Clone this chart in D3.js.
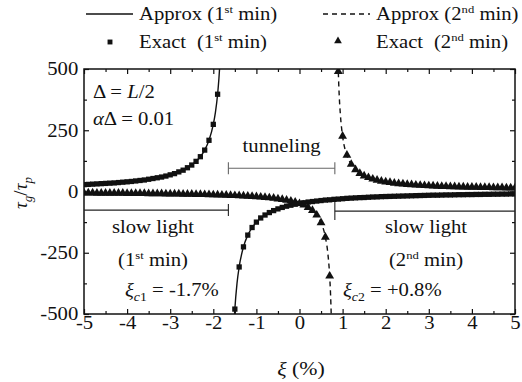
<!DOCTYPE html>
<html>
<head>
<meta charset="utf-8">
<script src="https://cdn.jsdelivr.net/npm/d3@7/dist/d3.min.js"></script>
<style>
  body { margin: 0; background: #fff; }
  svg text { font-family: 'Liberation Serif', 'Times New Roman', Times, 'DejaVu Serif', serif; fill: #111; }
</style>
</head>
<body>
<div id="chart"></div>
<script>
// ---- data ----
// exact, 1st minimum (squares)
var exact1LeftX = [-5.0,-4.9,-4.8,-4.7,-4.6,-4.5,-4.4,-4.3,-4.2,-4.1,-4.0,-3.9,-3.8,-3.7,-3.6,-3.5,-3.4,-3.3,-3.2,-3.1,-3.0,-2.9,-2.8,-2.7,-2.6,-2.5,-2.4,-2.3,-2.2,-2.1,-2.0,-1.9];
var exact1LeftY = [28,29,30,31,32,33,34,35,36.5,38,39.5,41,43,45,47,50,53,56,59,63,68,73,80,87,97,108,123,142,169,209,274,397];
var exact1RightX = [-1.5,-1.4,-1.3,-1.2,-1.1,-1.0,-0.9,-0.8,-0.7,-0.6,-0.5,-0.4,-0.3,-0.2,-0.1,0.0,0.1,0.2,0.3,0.4,0.5,0.6,0.7,0.8,0.9,1.0,1.1,1.2,1.3,1.4,1.5,1.6,1.7,1.8,1.9,2.0,2.1,2.2,2.3,2.4,2.5,2.6,2.7,2.8,2.9,3.0,3.1,3.2,3.3,3.4,3.5,3.6,3.7,3.8,3.9,4.0,4.1,4.2,4.3,4.4,4.5,4.6,4.7,4.8,4.9,5.0];
var exact1RightY = [-480,-308,-226,-178,-147,-125,-108,-96,-86,-78,-71,-65,-60,-56,-52,-49,-46,-43,-41,-39,-37,-35,-34,-32,-31,-29.5,-28,-27,-26,-25,-24.5,-23.5,-22.5,-22,-21,-20.5,-20,-19.5,-19,-18.5,-18,-17.5,-17,-16.5,-16,-15.5,-15,-15,-14.5,-14,-14,-13.5,-13,-13,-12.5,-12.5,-12,-12,-11.5,-11.5,-11,-11,-10.5,-10.5,-10,-10];

// exact, 2nd minimum (triangles)
var exact2LeftX = [-5.0,-4.9,-4.8,-4.7,-4.6,-4.5,-4.4,-4.3,-4.2,-4.1,-4.0,-3.9,-3.8,-3.7,-3.6,-3.5,-3.4,-3.3,-3.2,-3.1,-3.0,-2.9,-2.8,-2.7,-2.6,-2.5,-2.4,-2.3,-2.2,-2.1,-2.0,-1.9,-1.8,-1.7,-1.6,-1.5,-1.4,-1.3,-1.2,-1.1,-1.0,-0.9,-0.8,-0.7,-0.6,-0.5,-0.4,-0.3,-0.2,-0.1,0.0,0.1,0.2,0.3,0.4,0.5,0.6,0.7];
var exact2LeftY = [-6,-6,-6,-6.5,-6.5,-6.5,-7,-7,-7,-7,-7.5,-7.5,-8,-8,-8,-8.5,-8.5,-9,-9,-9.5,-9.5,-10,-10,-10.5,-11,-11,-11.5,-12,-12.5,-13,-13.5,-14,-14.5,-15,-16,-16.5,-17,-18,-19,-20,-21,-22.5,-24,-25.5,-27.5,-30,-32,-35,-39,-43,-49,-55,-65,-77,-96,-127,-186,-345];
var exact2RightX = [0.9,1.0,1.1,1.2,1.3,1.4,1.5,1.6,1.7,1.8,1.9,2.0,2.1,2.2,2.3,2.4,2.5,2.6,2.7,2.8,2.9,3.0,3.1,3.2,3.3,3.4,3.5,3.6,3.7,3.8,3.9,4.0,4.1,4.2,4.3,4.4,4.5,4.6,4.7,4.8,4.9,5.0];
var exact2RightY = [490,226,148,111,89,74,64,57,51,46,42,39,37,34,32,31,29,28,26.5,25.5,24.5,23.5,22.5,22,21,20.5,20,19.5,19,18.5,18,17.5,17.5,17,16.5,16.5,16,15.5,15.5,15,15,14.5];

// approximation curves
var approx1LeftX = [-5,-4.5,-4,-3.5,-3,-2.75,-2.5,-2.3,-2.2,-2.1,-2.0,-1.95,-1.9,-1.87,-1.85];
var approx1LeftY = [28,33,39.5,50,68,83,108,142,169,209,274,324,397,460,514];
var approx1RightX = [-1.52,-1.5,-1.45,-1.4,-1.3,-1.2,-1.1,-1.0,-0.8,-0.6,-0.4,-0.2,0,0.5,1,1.5,2,3,4,5];
var approx1RightY = [-541,-480,-375,-308,-226,-178,-147,-125,-96,-78,-65,-56,-49,-37,-29.5,-24.5,-20.5,-15.5,-12.5,-10];
var approx2LeftX = [-5,-4,-3,-2,-1.5,-1,-0.5,0,0.2,0.4,0.5,0.6,0.65,0.7,0.72,0.74];
var approx2LeftY = [-6,-7.4,-9.6,-13.4,-16.5,-21.3,-29.8,-48.6,-64.6,-96,-127,-186,-241,-345,-417,-525];
var approx2RightX = [0.89,0.9,0.92,0.95,1.0,1.1,1.2,1.3,1.5,1.75,2,2.5,3,4,5];
var approx2RightY = [560,493,398,310,226,148,111,89,64,48,39,29,23.5,17.5,14.5];

// axis ticks
var xTicks = [-5,-4,-3,-2,-1,0,1,2,3,4,5];
var xMinor = [-4.5,-3.5,-2.5,-1.5,-0.5,0.5,1.5,2.5,3.5,4.5];
var yTicks = [-500,-250,0,250,500];
var yMinor = [-375,-125,125,375];

// regions (pole positions in %, bracket heights in tau units)
var xiC1 = -1.65, xiC2 = 0.82;
var tunnelY = 95, slowLeftY = -76, slowRightY = -80;

// ---- drawing ----
var W = 522, H = 382;
var SX = 1.15;   // the source figure is a bit stretched horizontally
var FS = 18;
var SERIF = "'Liberation Serif', 'Times New Roman', Times, 'DejaVu Serif', serif";

var svg = d3.select('#chart').append('svg')
  .attr('width', W).attr('height', H)
  .attr('font-family', SERIF);

var x = d3.scaleLinear().domain([-5, 5]).range([84, 515]);
var y = d3.scaleLinear().domain([-500, 500]).range([314, 69]);

function zip(xs, ys) {
  return xs.map(function(d, i) { return { x: d, y: ys[i] }; });
}

function label(g, px, py, anchor, size) {
  return g.append('text')
    .attr('transform', 'translate(' + px + ',' + py + ') scale(' + SX + ',1)')
    .attr('text-anchor', anchor || 'start')
    .attr('font-family', SERIF)
    .attr('font-size', size || FS);
}

function sup(t, s) {
  t.append('tspan').attr('font-size', 11).attr('dy', -7).text(s);
}

svg.append('defs').append('clipPath').attr('id', 'plotclip')
  .append('rect')
  .attr('x', x(-5)).attr('y', y(500))
  .attr('width', x(5) - x(-5)).attr('height', y(-500) - y(500));

// axes: ticks pointing inward on all four sides
function tickStyle(g) {
  g.attr('font-family', SERIF);
  g.select('.domain').remove();
  g.selectAll('.tick line').attr('stroke', '#111').attr('stroke-width', 1.2);
}
function tickText(g) {
  g.selectAll('text').attr('font-size', FS).attr('fill', '#111')
    .attr('font-family', SERIF)
    .attr('transform', 'scale(' + SX + ',1)');
}
function noLabel() { return ''; }

svg.append('g').attr('transform', 'translate(0,' + y(-500) + ')')
  .call(d3.axisBottom(x).tickValues(xTicks).tickSize(-5).tickPadding(2)
    .tickFormat(function(d) { return String(d); }))
  .call(tickStyle).call(tickText);
svg.append('g').attr('transform', 'translate(0,' + y(-500) + ')')
  .call(d3.axisBottom(x).tickValues(xMinor).tickSize(-3).tickFormat(noLabel))
  .call(tickStyle);
svg.append('g').attr('transform', 'translate(0,' + y(500) + ')')
  .call(d3.axisTop(x).tickValues(xTicks).tickSize(-5).tickFormat(noLabel))
  .call(tickStyle);
svg.append('g').attr('transform', 'translate(0,' + y(500) + ')')
  .call(d3.axisTop(x).tickValues(xMinor).tickSize(-3).tickFormat(noLabel))
  .call(tickStyle);

svg.append('g').attr('transform', 'translate(' + x(-5) + ',0)')
  .call(d3.axisLeft(y).tickValues(yTicks).tickSize(-5).tickPadding(5)
    .tickFormat(function(d) { return String(d); }))
  .call(tickStyle).call(tickText);
svg.append('g').attr('transform', 'translate(' + x(-5) + ',0)')
  .call(d3.axisLeft(y).tickValues(yMinor).tickSize(-3).tickFormat(noLabel))
  .call(tickStyle);
svg.append('g').attr('transform', 'translate(' + x(5) + ',0)')
  .call(d3.axisRight(y).tickValues(yTicks).tickSize(-5).tickFormat(noLabel))
  .call(tickStyle);
svg.append('g').attr('transform', 'translate(' + x(5) + ',0)')
  .call(d3.axisRight(y).tickValues(yMinor).tickSize(-3).tickFormat(noLabel))
  .call(tickStyle);

// frame
svg.append('rect')
  .attr('x', x(-5)).attr('y', y(500))
  .attr('width', x(5) - x(-5)).attr('height', y(-500) - y(500))
  .attr('fill', 'none').attr('stroke', '#111').attr('stroke-width', 1.5);

// region brackets
function bracket(x0, x1, yv, capAt, capLo, capHi, color) {
  var g = svg.append('g').attr('stroke', color).attr('stroke-width', 1.1);
  g.append('line').attr('x1', x(x0)).attr('x2', x(x1)).attr('y1', y(yv)).attr('y2', y(yv));
  capAt.forEach(function(c) {
    g.append('line').attr('x1', x(c)).attr('x2', x(c))
      .attr('y1', y(yv) - capLo).attr('y2', y(yv) + capHi);
  });
}
bracket(xiC1, xiC2, tunnelY, [xiC1, xiC2], 6, 6, '#666');
bracket(-5, xiC1, slowLeftY, [xiC1], 6, 6, '#222');
bracket(xiC2, 5, slowRightY, [xiC2], 10, 9, '#222');

// curves
var line = d3.line()
  .x(function(d) { return x(d.x); })
  .y(function(d) { return y(d.y); })
  .curve(d3.curveMonotoneX);

var plot = svg.append('g').attr('clip-path', 'url(#plotclip)');

[zip(approx1LeftX, approx1LeftY), zip(approx1RightX, approx1RightY)].forEach(function(d) {
  plot.append('path').datum(d).attr('d', line)
    .attr('fill', 'none').attr('stroke', '#111').attr('stroke-width', 1.4);
});
[zip(approx2LeftX, approx2LeftY), zip(approx2RightX, approx2RightY)].forEach(function(d) {
  plot.append('path').datum(d).attr('d', line)
    .attr('fill', 'none').attr('stroke', '#111').attr('stroke-width', 1.4)
    .attr('stroke-dasharray', '5,4');
});

var sq = d3.symbol().type(d3.symbolSquare).size(28);
var tri = d3.symbol().type(d3.symbolTriangle).size(34);

plot.selectAll('path.sq')
  .data(zip(exact1LeftX, exact1LeftY).concat(zip(exact1RightX, exact1RightY)))
  .enter().append('path').classed('sq', true)
  .attr('d', sq)
  .attr('transform', function(d) { return 'translate(' + x(d.x) + ',' + y(d.y) + ')'; })
  .attr('fill', '#111');

plot.selectAll('path.tri')
  .data(zip(exact2LeftX, exact2LeftY).concat(zip(exact2RightX, exact2RightY)))
  .enter().append('path').classed('tri', true)
  .attr('d', tri)
  .attr('transform', function(d) { return 'translate(' + x(d.x) + ',' + y(d.y) + ')'; })
  .attr('fill', '#111');

// legend
var lg = svg.append('g');
lg.append('line').attr('x1', 86).attr('x2', 133).attr('y1', 14).attr('y2', 14)
  .attr('stroke', '#111').attr('stroke-width', 1.4);
lg.append('line').attr('x1', 323).attr('x2', 370).attr('y1', 14).attr('y2', 14)
  .attr('stroke', '#111').attr('stroke-width', 1.4).attr('stroke-dasharray', '5,4');
lg.append('path').attr('d', d3.symbol().type(d3.symbolSquare).size(24)())
  .attr('transform', 'translate(110,42)').attr('fill', '#111');
lg.append('path').attr('d', d3.symbol().type(d3.symbolTriangle).size(26)())
  .attr('transform', 'translate(338,41)').attr('fill', '#111');

var t;
t = label(lg, 139, 20); t.append('tspan').text('Approx (1'); sup(t, 'st');
t.append('tspan').attr('dy', 7).text(' min)');
t = label(lg, 376, 20); t.append('tspan').text('Approx (2'); sup(t, 'nd');
t.append('tspan').attr('dy', 7).text(' min)');
t = label(lg, 139, 48); t.append('tspan').text('Exact'); t.append('tspan').attr('dx', 5).text(' (1');
sup(t, 'st'); t.append('tspan').attr('dy', 7).text(' min)');
t = label(lg, 376, 48); t.append('tspan').text('Exact'); t.append('tspan').attr('dx', 5).text(' (2');
sup(t, 'nd'); t.append('tspan').attr('dy', 7).text(' min)');

// annotations
var an = svg.append('g');
t = label(an, 93, 98); t.append('tspan').text('\u0394 = '); t.append('tspan').attr('font-style', 'italic').text('L');
t.append('tspan').text('/2');
t = label(an, 93, 125); t.append('tspan').attr('font-style', 'italic').text('\u03b1');
t.append('tspan').text('\u0394 = 0.01');

label(an, x((xiC1 + xiC2) / 2), 152, 'middle').text('tunneling');

label(an, 153, 233, 'middle').text('slow light');
t = label(an, 153, 266, 'middle'); t.append('tspan').text('(1'); sup(t, 'st');
t.append('tspan').attr('dy', 7).text(' min)');
label(an, 426, 233, 'middle').text('slow light');
t = label(an, 426, 266, 'middle'); t.append('tspan').text('(2'); sup(t, 'nd');
t.append('tspan').attr('dy', 7).text(' min)');

function xiLabel(px, sub, rest) {
  var tt = label(an, px, 296);
  tt.append('tspan').attr('font-style', 'italic').text('\u03be');
  tt.append('tspan').attr('font-style', 'italic').attr('font-size', 12).attr('dy', 5).text('c');
  tt.append('tspan').attr('font-size', 12).text(sub);
  tt.append('tspan').attr('dy', -5).text(rest);
}
xiLabel(125, '1', ' = -1.7%');
xiLabel(343, '2', ' = +0.8%');

// axis titles
t = label(svg, 301, 375, 'middle', 19);
t.append('tspan').attr('font-style', 'italic').text('\u03be');
t.append('tspan').text(' (%)');

t = svg.append('text')
  .attr('transform', 'translate(27,193) rotate(-90)')
  .attr('font-family', SERIF)
  .attr('text-anchor', 'middle').attr('font-size', 19);
t.append('tspan').attr('font-style', 'italic').text('\u03c4');
t.append('tspan').attr('font-style', 'italic').attr('font-size', 13).attr('dy', 5).text('g');
t.append('tspan').attr('dy', -5).text('/');
t.append('tspan').attr('font-style', 'italic').text('\u03c4');
t.append('tspan').attr('font-style', 'italic').attr('font-size', 13).attr('dy', 5).text('p');
</script>
</body>
</html>
